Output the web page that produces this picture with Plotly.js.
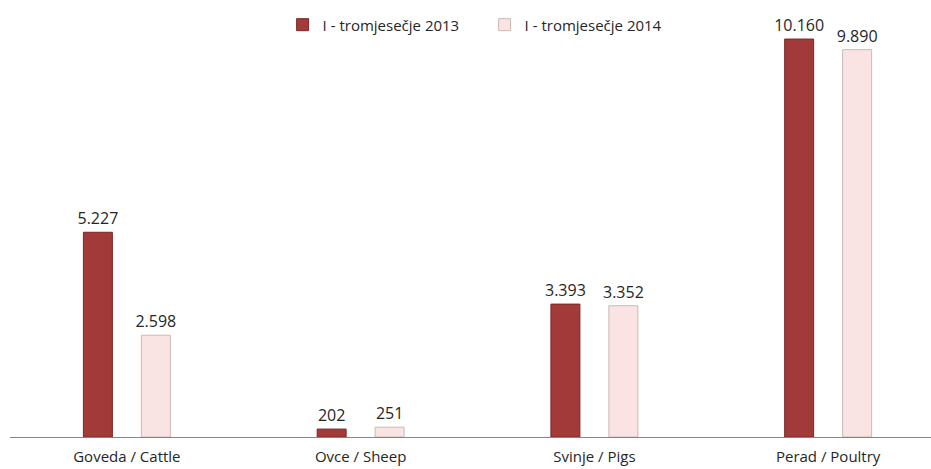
<!DOCTYPE html>
<html><head><meta charset="utf-8">
<script src="https://cdn.plot.ly/plotly-3.0.1.min.js"></script>
<style>html,body{margin:0;padding:0;background:#fff;}#chart{width:931px;height:469px;}</style>
</head><body><div id="chart"></div>
<script>
const categories = ["Goveda / Cattle", "Ovce / Sheep", "Svinje / Pigs", "Perad / Poultry"];
const series2013 = [5227, 202, 3393, 10160];
const series2014 = [2598, 251, 3352, 9890];
const seriesNames = ["I - tromjesečje 2013", "I - tromjesečje 2014"];

const common = {
  type: "bar",
  x: categories,
  texttemplate: "%{y:,}",
  textposition: "outside",
  constraintext: "none",
  cliponaxis: false,
  textfont: {family: "Open Sans, sans-serif", size: 16, color: "#262626"}
};
const traces = [
  Object.assign({}, common, {
    name: seriesNames[0], y: series2013,
    marker: {color: "#A23A3A", line: {color: "#7E2626", width: 1}}
  }),
  Object.assign({}, common, {
    name: seriesNames[1], y: series2014,
    marker: {color: "#F9E3E3", line: {color: "#CDB8B8", width: 1}}
  })
];
const layout = {
  width: 931, height: 469,
  margin: {l: 10, r: 0, t: 0, b: 32},
  paper_bgcolor: "#fff", plot_bgcolor: "#fff",
  separators: ",.",
  barmode: "group",
  bargap: 0.504,
  bargroupgap: 0.5,
  showlegend: true,
  legend: {
    orientation: "h", x: 0.296, y: 0.943, xanchor: "left", yanchor: "middle",
    entrywidth: 157, entrywidthmode: "pixels", itemwidth: 30,
    font: {family: "Open Sans, sans-serif", size: 15, color: "#262626"}
  },
  xaxis: {
    type: "category", range: [-0.5, 3.44],
    showline: true, linecolor: "#868686", linewidth: 1,
    ticks: "", showgrid: false, zeroline: false, ticklabelstandoff: 6,
    tickfont: {family: "Open Sans, sans-serif", size: 15, color: "#262626"}
  },
  yaxis: {
    range: [0, 11157], visible: false, showgrid: false, zeroline: false
  }
};
Plotly.newPlot("chart", traces, layout, {displayModeBar: false, staticPlot: true});
</script></body></html>
